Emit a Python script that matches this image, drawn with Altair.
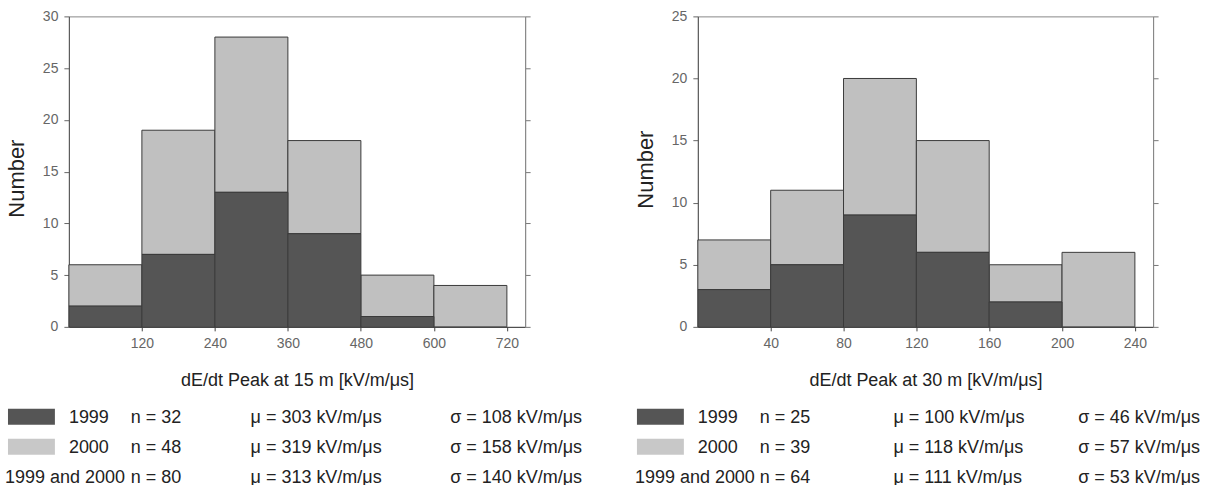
import altair as alt
import pandas as pd

# ---------------- data ----------------
bin_lo_15 = [0, 120, 240, 360, 480, 600]
bin_hi_15 = [120, 240, 360, 480, 600, 720]
count_1999_15 = [2, 7, 13, 9, 1, 0]
count_total_15 = [6, 19, 28, 18, 5, 4]
ticks_15 = [120, 240, 360, 480, 600, 720]

bin_lo_30 = [0, 40, 80, 120, 160, 200]
bin_hi_30 = [40, 80, 120, 160, 200, 240]
count_1999_30 = [3, 5, 9, 6, 2, 0]
count_total_30 = [7, 11, 20, 15, 5, 6]
ticks_30 = [40, 80, 120, 160, 200, 240]

legend_years = ["1999", "2000", "1999 and 2000"]
n_15 = ["n = 32", "n = 48", "n = 80"]
mu_15 = ["\u03bc = 303 kV/m/\u03bcs", "\u03bc = 319 kV/m/\u03bcs", "\u03bc = 313 kV/m/\u03bcs"]
sd_15 = ["\u03c3 = 108 kV/m/\u03bcs", "\u03c3 = 158 kV/m/\u03bcs", "\u03c3 = 140 kV/m/\u03bcs"]
n_30 = ["n = 25", "n = 39", "n = 64"]
mu_30 = ["\u03bc = 100 kV/m/\u03bcs", "\u03bc = 118 kV/m/\u03bcs", "\u03bc = 111 kV/m/\u03bcs"]
sd_30 = ["\u03c3 = 46 kV/m/\u03bcs", "\u03c3 = 57 kV/m/\u03bcs", "\u03c3 = 53 kV/m/\u03bcs"]

# ---------------- style ----------------
FONT = "Liberation Sans"
DARK = "#555555"
LIGHT = "#c0c0c0"
EDGE = "#3a3a3a"
TXT = "#222222"
H = 311
ROW_Y = [401, 431, 461]   # legend row centres, relative to plot top


def panel(lo, hi, c99, ctot, x_max, y_max, xticks, xtitle, ns, mus, sds,
          W, col_year2, col_n, col_mu, col_sd, ytitle_y, anchor_x):
    df = pd.DataFrame({"lo": lo, "hi": hi, "c1999": c99, "total": ctot})
    xs = alt.Scale(domain=[0, x_max], nice=False, zero=True)
    ys = alt.Scale(domain=[0, y_max], nice=False)
    xaxis = alt.Axis(values=xticks, title=xtitle, grid=False, tickSize=4,
                     labelPadding=6, labelFontSize=14, labelColor="#666",
                     labelOverlap=False, labelFlush=False,
                     titleFontSize=18, titleFontWeight="normal", titleColor=TXT,
                     titleY=58.5, titleBaseline="alphabetic",
                     domainColor="#444", tickColor="#444")
    yaxis = alt.Axis(values=list(range(0, y_max + 1, 5)), title="Number", grid=False,
                     tickSize=5, labelPadding=6, labelFontSize=14, labelColor="#666",
                     titleFontSize=22, titleFontWeight="normal", titleColor=TXT,
                     titleX=-52, titleY=ytitle_y, titleAngle=270,
                     titleAlign="center", titleBaseline="middle",
                     domainColor="#555", tickColor="#666")
    base = alt.Chart(df)
    light = base.mark_rect(color=LIGHT, stroke=EDGE, strokeWidth=1).encode(
        x=alt.X("lo:Q", scale=xs, axis=xaxis),
        x2="hi:Q",
        y=alt.Y("c1999:Q", scale=ys, axis=yaxis),
        y2="total:Q",
    )
    dark = base.transform_filter("datum.c1999 > 0").mark_rect(
        color=DARK, stroke=EDGE, strokeWidth=1).encode(
        x=alt.X("lo:Q", scale=xs), x2="hi:Q",
        y=alt.Y("c1999:Q", scale=ys, axis=None), y2=alt.datum(0),
    )
    right_axis = base.mark_rule(opacity=0).encode(
        y=alt.Y("total:Q", scale=ys,
                axis=alt.Axis(orient="right", values=list(range(0, y_max + 1, 5)),
                              labels=False, title=None, grid=False, tickSize=5,
                              domainColor="#888", tickColor="#777")),
    )

    # legend texts
    rows = []
    for i in range(3):
        rows.append({"t": legend_years[i], "px": 0 if i < 2 else col_year2, "py": ROW_Y[i] + 6.5})
        rows.append({"t": ns[i], "px": col_n, "py": ROW_Y[i] + 6.5})
        rows.append({"t": mus[i], "px": col_mu, "py": ROW_Y[i] + 6.5})
        rows.append({"t": sds[i], "px": col_sd, "py": ROW_Y[i] + 6.5})
    ldf = pd.DataFrame(rows)
    texts = alt.Chart(ldf).mark_text(align="left", baseline="alphabetic", fontSize=18,
                                     font=FONT, color=TXT).encode(
        x=alt.X("px:Q", scale=None, axis=None),
        y=alt.Y("py:Q", scale=None, axis=None),
        text="t:N",
    )
    sw = pd.DataFrame({
        "name": legend_years[:2],
        "col": [DARK, "#c8c8c8"],
        "x1": [-61, -61], "x2": [-14, -14],
        "y1": [ROW_Y[0] - 8, ROW_Y[1] - 8], "y2": [ROW_Y[0] + 8, ROW_Y[1] + 8],
    })
    swatches = alt.Chart(sw).mark_rect().encode(
        x=alt.X("x1:Q", scale=None), x2="x2:Q",
        y=alt.Y("y1:Q", scale=None, axis=None), y2="y2:Q",
        color=alt.Color("col:N", scale=None, legend=None),
    )
    anchor = alt.Chart(sw).mark_rect(opacity=0).encode(
        x=alt.value(anchor_x), x2=alt.value(anchor_x + 1),
        y=alt.value(-15), y2=alt.value(470),
    )
    return alt.layer(light, dark, right_axis, swatches, texts, anchor).resolve_axis(
        y="independent").properties(width=W, height=H)


left = panel(bin_lo_15, bin_hi_15, count_1999_15, count_total_15, 750, 30, ticks_15,
             "dE/dt Peak at 15 m [kV/m/\u03bcs]", n_15, mu_15, sd_15,
             457, -64, 62, 182, 382, 162, -68)
right = panel(bin_lo_30, bin_hi_30, count_1999_30, count_total_30, 250, 25, ticks_30,
              "dE/dt Peak at 30 m [kV/m/\u03bcs]", n_30, mu_30, sd_30,
              456, -63, 62, 196, 381, 153, 507)

chart = alt.HConcatChart(hconcat=[left, right], spacing=173, bounds="flush").properties(
    padding=0, background="white"
).configure(font=FONT).configure_view(stroke="#888", strokeWidth=1)

chart.save("out.html", embed_options={"renderer": "svg", "actions": False})
